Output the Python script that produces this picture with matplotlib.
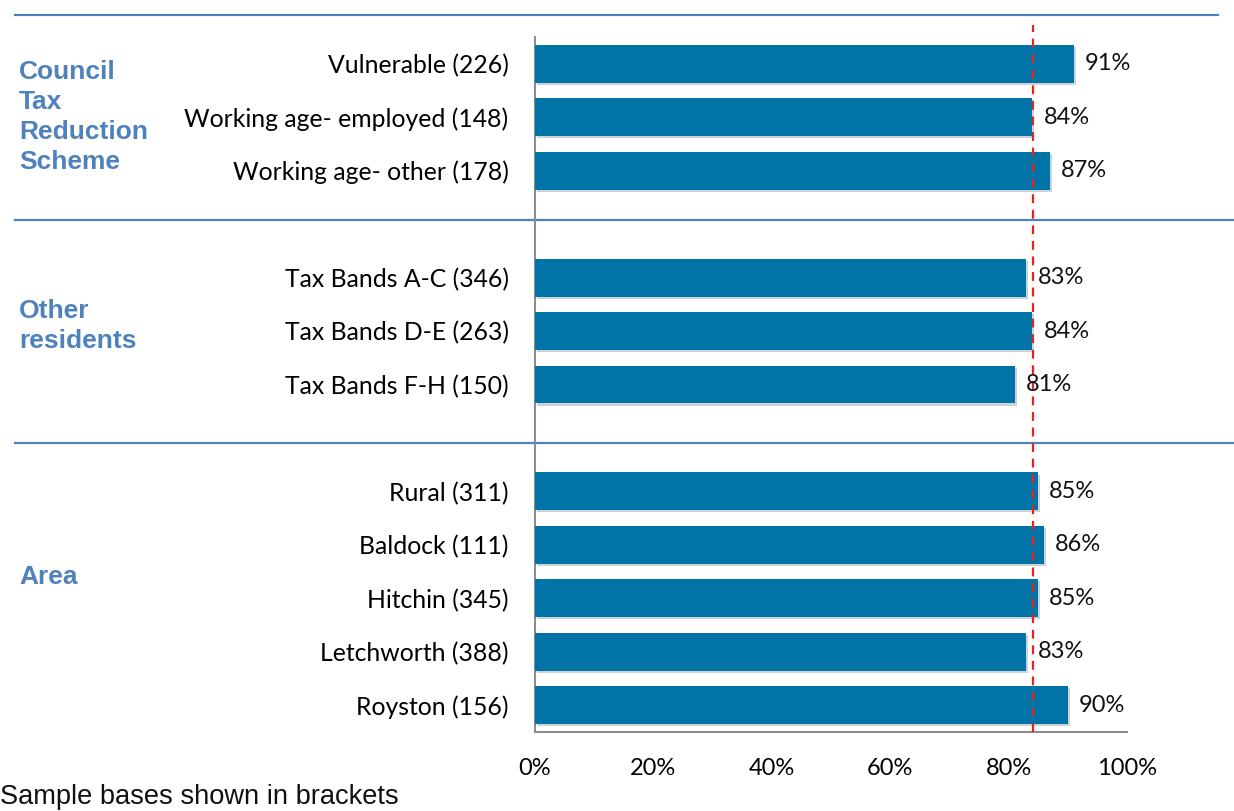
import matplotlib.pyplot as plt
import matplotlib.patheffects as pe
from matplotlib.transforms import blended_transform_factory
import numpy as np

categories = ['Vulnerable (226)', 'Working age- employed (148)', 'Working age- other (178)',
              'Tax Bands A-C (346)', 'Tax Bands D-E (263)', 'Tax Bands F-H (150)',
              'Rural (311)', 'Baldock (111)', 'Hitchin (345)', 'Letchworth (388)', 'Royston (156)']
values = [91, 84, 87, 83, 84, 81, 85, 86, 85, 83, 90]
slots = [0, 1, 2, 4, 5, 6, 8, 9, 10, 11, 12]  # one empty slot between groups
groups = ['Council\nTax\nReduction\nScheme', 'Other\nresidents', 'Area']
group_pos = [1.0, 4.9, 9.6]
average = 84.2
xticks = [0, 20, 40, 60, 80, 100]

bar_color = '#0074A6'
blue = '#4F81BD'
lab_font = 'Lato'

fig = plt.figure(figsize=(12.34, 8.11), dpi=100)
ax = fig.add_axes([535 / 1234, 1 - 732 / 811, (1127 - 535) / 1234, (732 - 37) / 811])

bars = ax.barh(slots, values, height=0.71, color=bar_color, zorder=3,
               path_effects=[pe.SimplePatchShadow(offset=(1.5, -1.5), alpha=0.2), pe.Normal()])
for s, v in zip(slots, values):
    ax.annotate(f'{v}%', (v, s), xytext=(8, 0), textcoords='offset points',
                va='center', ha='left', fontsize=17, family=lab_font, color='#111111', zorder=5)

ax.vlines(average, 12.5, -0.72, colors='#E8231F', linestyles=(0, (4, 3)), linewidth=1.6,
          clip_on=False, zorder=4)

ax.set_xlim(0, 100)
ax.set_ylim(12.5, -0.5)
ax.set_xticks(xticks, [f'{t}%' for t in xticks], fontsize=17, family=lab_font)
ax.set_yticks(slots, categories, fontsize=17.8, family=lab_font)
ax.tick_params(axis='both', length=0)
ax.tick_params(axis='x', pad=19)
ax.tick_params(axis='y', pad=19)
for side in ['top', 'right']:
    ax.spines[side].set_visible(False)
for side in ['left', 'bottom']:
    ax.spines[side].set_color('#8C8C8C')
    ax.spines[side].set_linewidth(1.5)

# group separators spanning the figure width
tr = blended_transform_factory(fig.transFigure, ax.transData)
for y, x1 in [(-0.92, 1218 / 1234), (2.92, 1.0), (7.1, 1.0)]:
    ax.plot([15 / 1234, x1], [y, y], transform=tr, color=blue, linewidth=1.6, clip_on=False)

for g, y in zip(groups, group_pos):
    ax.text(19 / 1234, y, g, transform=tr, ha='left', va='center', fontsize=19,
            fontweight='bold', family='Liberation Sans', color=blue, linespacing=1.32)

fig.text(0, 1 - 804 / 811, 'Sample bases shown in brackets', ha='left', va='baseline',
         fontsize=19.6, family='Liberation Sans', color='#111111')

fig.savefig('out.png', dpi=100)
